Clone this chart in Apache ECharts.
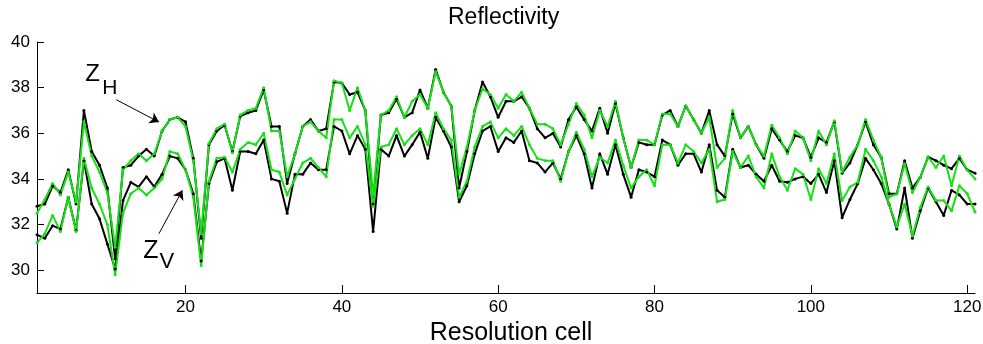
<!DOCTYPE html>
<html>
<head>
<meta charset="utf-8">
<script src="https://cdn.jsdelivr.net/npm/echarts@6/dist/echarts.min.js"></script>
<style>
html,body{margin:0;padding:0;background:#fff;}
#chart{width:983px;height:344px;}
</style>
</head>
<body>
<div id="chart"></div>
<script>
// resolution cells 1..121
var cells = [];
for (var i = 1; i <= 121; i++) cells.push(i);

// Z_H (black = reference, green = estimate)
var zhBlack = [32.8, 32.9, 33.7, 33.4, 34.4, 32.9, 37.0, 35.2, 34.6, 33.6, 30.5, 34.5, 34.6, 35.0, 35.3, 35.0, 36.1, 36.6, 36.7, 36.5, 34.9, 31.4,
    35.5, 36.1, 36.35, 35.2, 36.75, 36.9, 37.0, 37.9, 36.3, 36.3, 33.8, 35.1, 36.3, 36.6, 36.1, 36.2, 38.25, 38.2, 37.7, 37.8, 37.0, 32.9,
    36.8, 36.9, 37.5, 36.7, 36.9, 37.9, 37.1, 38.8, 37.8, 37.2, 33.6, 35.2, 37.0, 38.25, 37.6, 36.7, 37.4, 37.4, 37.6, 37.1, 36.2, 35.8, 36.0, 35.4, 36.6, 37.15,
    36.6, 36.1, 37.1, 36.0, 37.3, 35.8, 34.5, 35.6, 35.5, 35.5, 36.8, 37.0, 36.3, 37.2, 36.6, 36.0, 37.0, 35.5, 35.0, 36.85, 35.8, 36.3, 35.5, 34.9,
    36.2, 35.7, 35.2, 35.9, 35.8, 34.95, 35.8, 35.6, 36.5, 34.25, 34.7, 35.5, 36.5, 35.5, 34.95, 33.35, 33.35, 34.8, 33.6, 34.07, 34.96, 34.8, 34.6, 34.45, 34.9, 34.4, 34.25];
var zhGreen = [32.5, 33.1, 33.8, 33.3, 34.3, 33.0, 36.5, 35.0, 34.3, 33.4, 31.0, 34.4, 34.8, 35.1, 34.8, 35.1, 36.1, 36.6, 36.7, 36.3, 34.8, 31.6,
    35.55, 36.2, 36.4, 35.15, 36.8, 37.0, 37.1, 38.0, 36.1, 36.1, 34.1, 35.1, 36.3, 36.5, 36.1, 35.8, 38.3, 38.2, 37.0, 38.0, 37.0, 33.3,
    36.8, 37.0, 37.6, 36.7, 37.4, 37.7, 37.1, 38.7, 37.8, 37.2, 34.2, 35.4, 37.0, 37.95, 37.7, 37.1, 37.7, 37.4, 37.8, 37.1, 36.4, 36.4, 36.2, 35.5, 36.4, 37.3,
    36.8, 35.8, 37.0, 36.3, 37.4, 35.8, 34.5, 35.7, 35.7, 35.5, 36.85, 36.85, 36.3, 37.2, 36.6, 36.0, 36.7, 34.5, 34.9, 37.0, 35.8, 36.3, 35.5, 35.0,
    36.35, 35.8, 35.1, 36.1, 35.8, 34.8, 36.1, 35.5, 36.55, 34.3, 34.96, 35.5, 36.6, 35.7, 34.95, 33.2, 33.35, 34.66, 33.4, 34.07, 34.96, 34.5, 35.0, 33.7, 35.0, 34.4, 34.0];

// Z_V
var zvBlack = [31.55, 31.4, 31.95, 31.8, 33.2, 31.75, 34.8, 32.9, 32.25, 31.15, 30.05, 33.05, 33.85, 33.65, 34.1, 33.65, 34.2, 35.0, 34.9, 34.4, 33.35, 30.4,
    33.8, 34.75, 34.9, 33.5, 35.2, 35.2, 35.1, 35.7, 34.0, 33.9, 32.5, 34.2, 34.2, 34.7, 34.4, 34.4, 36.3, 36.1, 35.1, 35.9, 35.3, 31.7,
    35.3, 35.0, 35.9, 35.0, 35.5, 36.05, 34.9, 36.7, 36.1, 35.4, 33.0, 33.7, 35.1, 36.1, 36.3, 35.2, 35.8, 35.6, 36.1, 34.8, 34.7, 34.3, 34.7, 34.0, 35.2, 35.9,
    35.1, 33.6, 35.1, 34.2, 35.5, 34.2, 33.2, 34.4, 34.3, 34.1, 35.7, 35.5, 34.6, 35.1, 35.1, 34.3, 35.5, 33.5, 33.2, 35.3, 34.5, 34.6, 34.2, 33.9,
    34.6, 33.9, 33.85, 34.0, 34.1, 33.8, 34.2, 33.4, 34.8, 32.3, 33.1, 33.8, 34.9, 34.4, 33.8, 32.9, 31.8, 33.6, 31.4, 32.6, 33.6, 33.0, 32.4, 33.5, 33.3, 32.9, 32.9];
var zvGreen = [31.2, 31.6, 32.4, 31.7, 33.2, 31.7, 34.9, 33.6, 32.9, 32.0, 29.8, 32.5, 33.35, 33.6, 33.3, 33.6, 34.0, 35.2, 35.1, 34.4, 33.2, 30.2,
    33.9, 34.9, 34.95, 34.3, 35.3, 35.6, 35.5, 36.0, 34.4, 34.3, 33.3, 34.0, 34.7, 34.9, 34.5, 34.1, 36.6, 36.6, 35.8, 36.3, 35.5, 32.8,
    35.4, 35.5, 36.2, 35.5, 35.9, 36.2, 35.5, 36.9, 36.2, 35.7, 33.2, 33.9, 35.4, 36.3, 36.5, 35.8, 36.2, 35.9, 36.3, 35.5, 34.9, 34.8, 34.8, 33.9, 35.2, 36.05,
    35.3, 34.1, 34.95, 34.7, 35.7, 34.6, 33.6, 34.1, 34.4, 33.7, 35.5, 35.5, 34.7, 35.5, 35.2, 34.7, 35.3, 33.0, 33.1, 35.2, 34.5, 35.0, 34.1, 33.6,
    35.1, 34.1, 33.5, 34.45, 34.2, 33.1, 34.45, 33.8, 35.1, 33.05, 33.65, 33.85, 35.3, 34.8, 34.1, 32.9, 31.9, 32.9, 31.5, 32.75, 33.65, 33.05, 33.05, 32.6, 33.7, 33.35, 32.55];

var xTicks = [20, 40, 60, 80, 100, 120];
var yTicks = [30, 32, 34, 36, 38, 40];

// annotation anchors, in data units
var zhArrow = [[11.15, 37.47], [16.6, 36.49]];
var zvArrow = [[16.6, 31.6], [19.6, 33.5]];
var zhText = [7.18, 38.6], zhSub = [9.36, 37.99];
var zvText = [14.58, 30.82], zvSub = [16.67, 30.38];

var FONT = '"Liberation Sans", Arial, Helvetica, sans-serif';

function pairs(vals) {
    return vals.map(function (v, i) { return [cells[i], v]; });
}

function lineSeries(name, vals, color) {
    return {
        name: name,
        type: 'line',
        data: pairs(vals),
        symbol: 'circle',
        symbolSize: 3,
        showAllSymbol: true,
        lineStyle: { color: color, width: 2 },
        itemStyle: { color: color },
        emphasis: { disabled: true },
        silent: true
    };
}

var myChart = echarts.init(document.getElementById('chart'));

var zhB = lineSeries('ZH black', zhBlack, '#000000');
zhB.markLine = {
    silent: true,
    symbol: ['none', 'arrow'],
    symbolSize: 9,
    label: { show: false },
    lineStyle: { color: '#000', width: 1, type: 'solid' },
    emphasis: { disabled: true },
    data: [
        [{ coord: zhArrow[0] }, { coord: zhArrow[1] }],
        [{ coord: zvArrow[0] }, { coord: zvArrow[1] }]
    ]
};

var option = {
    animation: false,
    backgroundColor: '#ffffff',
    title: {
        text: 'Reflectivity',
        left: 443,
        top: 1,
        textStyle: { fontFamily: FONT, fontSize: 23, fontWeight: 'normal', color: '#000' }
    },
    grid: { left: 37, right: 8, top: 42, bottom: 51, outerBoundsMode: 'none', containLabel: false },
    xAxis: {
        type: 'value',
        min: 1,
        max: 121,
        name: 'Resolution cell',
        nameLocation: 'middle',
        nameGap: 21,
        nameTextStyle: { fontFamily: FONT, fontSize: 25, color: '#000', padding: [0, 0, 0, 10] },
        axisLine: { show: true, onZero: false, lineStyle: { color: '#000', width: 1 } },
        axisTick: { show: true, inside: true, length: 8, customValues: xTicks, lineStyle: { color: '#000' } },
        axisLabel: { customValues: xTicks, fontFamily: FONT, fontSize: 17, color: '#000', margin: 6 },
        splitLine: { show: false }
    },
    yAxis: {
        type: 'value',
        min: 29,
        max: 40,
        axisLine: { show: true, onZero: false, lineStyle: { color: '#000', width: 1 } },
        axisTick: { show: true, inside: true, length: 7, customValues: yTicks, lineStyle: { color: '#000' } },
        axisLabel: { customValues: yTicks, fontFamily: FONT, fontSize: 17, color: '#000', margin: 7 },
        splitLine: { show: false }
    },
    series: [
        zhB,
        lineSeries('ZV black', zvBlack, '#000000'),
        lineSeries('ZH green', zhGreen, '#16e016'),
        lineSeries('ZV green', zvGreen, '#16e016')
    ]
};
myChart.setOption(option);

// Z_H / Z_V labels placed from data anchors
function label(at, txt, size) {
    var p = myChart.convertToPixel({ gridIndex: 0 }, at);
    return {
        type: 'text',
        x: p[0],
        y: p[1],
        silent: true,
        style: { text: txt, fontFamily: FONT, fontSize: size, fill: '#000', align: 'left', verticalAlign: 'middle' }
    };
}
myChart.setOption({
    graphic: [
        label(zhText, 'Z', 24),
        label(zhSub, 'H', 21),
        label(zvText, 'Z', 25),
        label(zvSub, 'V', 22)
    ]
});
</script>
</body>
</html>
